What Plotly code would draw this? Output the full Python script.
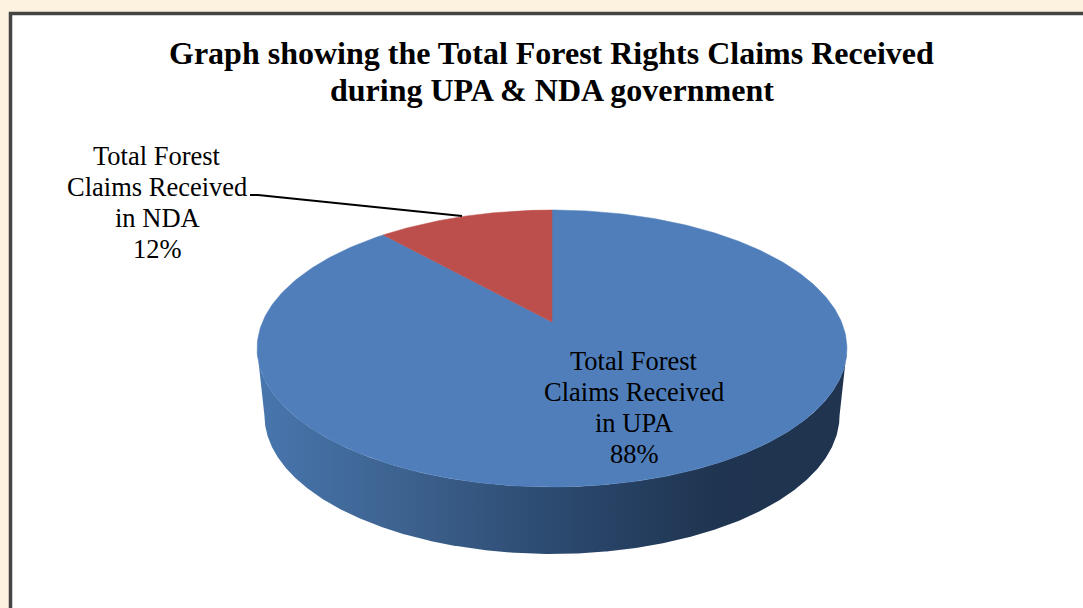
import numpy as np
import plotly.graph_objects as go

categories = [["Total Forest", "Claims Received", "in UPA"], ["Total Forest", "Claims Received", "in NDA"]]
shares = [88.4, 11.6]
title_lines = ["Graph showing the Total Forest Rights Claims Received", "during UPA &amp; NDA government"]

# projection of the tilted pie onto the page (pixels)
CX, APEX_Y, A, B, K = 552.0, 322.0, 289.5, 71.8, 0.1913
DEPTH, SHRINK = 67.0, 0.975


def project(frac):
    t = 2 * np.pi * np.asarray(frac, dtype=float)
    u, v = np.sin(t), np.cos(t)
    w = 1 + K * v
    return CX + A * u / w, (APEX_Y - B * v) / w


def sector(f0, f1):
    x, y = project(np.linspace(f0, f1, 361))
    return np.r_[CX, x, CX], np.r_[APEX_Y, y, APEX_Y]


fig = go.Figure()

# side wall
fr = np.linspace(0, 1, 1441)
rx, ry = project(fr)
i_r, i_l = int(np.argmax(rx)), int(np.argmin(rx))
fx, fy = rx[i_r:i_l + 1], ry[i_r:i_l + 1]
bx, by = CX + (fx - CX) * SHRINK, fy + DEPTH
fig.add_trace(go.Scatter(
    x=np.r_[fx, bx[::-1], fx[0]], y=np.r_[fy, by[::-1], fy[0]],
    mode="lines", line=dict(width=0), fill="toself",
    fillgradient=dict(type="horizontal", colorscale=[
        [0.0, "#4876AE"], [0.26, "#3C618D"], [0.5, "#2C4A70"],
        [0.78, "#1F3450"], [1.0, "#20344F"]]),
    hoverinfo="skip", showlegend=False))

# top face
total = sum(shares)
colors = ["#4F7EBB", "#BC4F4B"]
start = 0.0
for name, val, col in zip(categories, shares, colors):
    end = start + val / total
    x, y = sector(start, end)
    fig.add_trace(go.Scatter(x=x, y=y, mode="lines", line=dict(width=0.5, color=col),
                             fill="toself", fillcolor=col, name=" ".join(name),
                             showlegend=False, hoverinfo="name"))
    start = end

# leader line
fig.add_trace(go.Scatter(x=[250, 258, 462], y=[195, 195, 216], mode="lines",
                         line=dict(color="#000000", width=2), hoverinfo="skip", showlegend=False))

FONT = "Liberation Serif"
annotations = []


def put(text, x, y, size):
    annotations.append(dict(xref="x", yref="y", x=x, y=y, text=text, showarrow=False,
                            xanchor="center", yanchor="middle",
                            font=dict(family=FONT, size=size, color="#000000")))


for lines, val, lx, ly in zip(categories, shares, [634, 157], [361, 156]):
    for i, line in enumerate(lines + [f"{round(val)}%"]):
        put(line, lx, ly + 31 * i, 26.5)
put(f"<b>{title_lines[0]}</b>", 551, 53, 32)
put(f"<b>{title_lines[1]}</b>", 552, 90, 32)

fig.update_layout(
    width=1083, height=608, margin=dict(l=0, r=0, t=0, b=0),
    paper_bgcolor="#FDF1E0", plot_bgcolor="rgba(0,0,0,0)", showlegend=False,
    xaxis=dict(range=[0, 1083], visible=False, fixedrange=True),
    yaxis=dict(range=[608, 0], visible=False, fixedrange=True),
    annotations=annotations,
    shapes=[dict(type="rect", xref="x", yref="y", x0=10.5, y0=13.5, x1=1100, y1=630,
                 fillcolor="#FFFFFF", line=dict(color="#444444", width=3.5), layer="below")],
)
fig.write_html("out.html", config={"displayModeBar": False},
               post_script="document.body.style.margin='0';document.body.style.overflow='hidden';")
